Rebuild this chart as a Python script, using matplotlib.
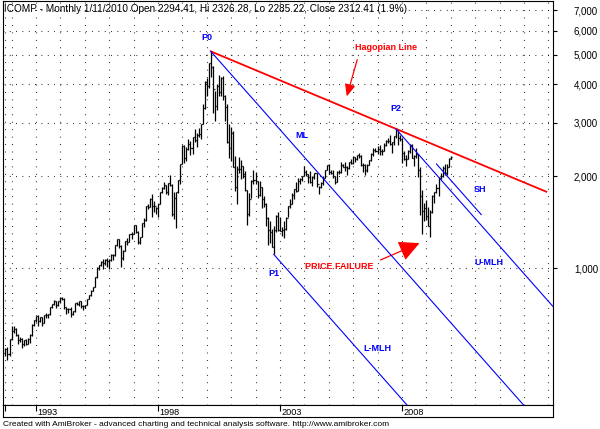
import numpy as np
import matplotlib.pyplot as plt
from matplotlib.collections import LineCollection
from matplotlib.ticker import NullLocator

plt.rcParams['font.family'] = ['Liberation Sans', 'DejaVu Sans']

# monthly bars of !COMP, Oct 1991 .. Jan 2010
# x position is the month number counted from Jan 1993
first_month = -15
first_open = 526.0
last_open = 2294.41

closes = [
    542.98, 523.90, 586.34,
    620.21, 633.47, 603.77, 578.68, 585.31, 563.60, 580.83, 563.12, 583.27, 605.17, 652.73, 676.95,
    696.34, 670.77, 690.13, 661.42, 700.53, 703.95, 704.70, 742.84, 762.78, 779.26, 754.39, 776.80,
    800.47, 792.50, 743.46, 733.84, 735.19, 705.96, 722.16, 765.62, 764.29, 777.49, 750.32, 751.96,
    755.20, 793.73, 817.21, 843.98, 864.58, 933.45, 1001.21, 1020.11, 1043.54, 1036.06, 1059.20, 1052.13,
    1059.79, 1100.05, 1101.40, 1190.52, 1243.43, 1185.02, 1080.59, 1141.50, 1226.92, 1221.51, 1292.61, 1291.03,
    1379.85, 1309.00, 1221.70, 1260.76, 1400.32, 1442.07, 1593.81, 1587.32, 1685.69, 1593.61, 1600.55, 1570.35,
    1619.36, 1770.51, 1835.68, 1868.41, 1778.87, 1894.74, 1872.39, 1499.25, 1693.84, 1771.39, 1949.54, 2192.69,
    2505.89, 2288.03, 2461.40, 2542.85, 2470.52, 2686.12, 2638.49, 2739.35, 2746.16, 2966.43, 3336.16, 4069.31,
    3940.35, 4696.69, 4572.83, 3860.66, 3400.91, 3966.11, 3766.99, 4206.35, 3672.82, 3369.63, 2597.93, 2470.52,
    2772.73, 2151.83, 1840.26, 2116.24, 2110.49, 2160.54, 2027.13, 1805.43, 1498.80, 1690.20, 1930.58, 1950.40,
    1934.03, 1731.49, 1845.35, 1688.23, 1615.73, 1463.21, 1328.26, 1314.85, 1172.06, 1329.75, 1478.78, 1335.51,
    1320.91, 1337.52, 1341.17, 1464.31, 1595.91, 1622.80, 1735.02, 1810.45, 1786.94, 1932.21, 1960.26, 2003.37,
    2066.15, 2029.82, 1994.22, 1920.15, 1986.74, 2047.79, 1887.36, 1838.10, 1896.84, 1974.99, 2096.81, 2175.44,
    2062.41, 2051.72, 1999.23, 1921.65, 2068.22, 2056.96, 2184.83, 2152.09, 2151.69, 2120.30, 2232.82, 2205.32,
    2305.82, 2281.39, 2339.79, 2322.57, 2178.88, 2172.09, 2091.47, 2183.75, 2258.43, 2366.71, 2431.77, 2415.29,
    2463.93, 2416.15, 2421.64, 2525.09, 2604.52, 2603.23, 2546.27, 2596.36, 2701.50, 2859.12, 2660.96, 2652.28,
    2389.86, 2271.48, 2279.10, 2412.80, 2522.66, 2292.98, 2325.55, 2367.52, 2091.88, 1720.95, 1535.57, 1577.03,
    1476.42, 1377.84, 1528.59, 1717.30, 1774.33, 1835.04, 1978.50, 2009.06, 2122.42, 2045.11, 2144.60, 2269.15,
    2312.41,
]
highs = [
    548, 550, 586,
    645, 644, 636, 606, 592, 590, 583, 584, 590, 606, 653, 677,
    697, 700, 693, 693, 701, 712, 707, 743, 763, 787, 779, 777,
    801, 803, 800, 745, 741, 746, 723, 766, 775, 781, 778, 755,
    756, 794, 818, 845, 866, 934, 1005, 1022, 1052, 1067, 1069, 1076,
    1067, 1114, 1110, 1191, 1249, 1245, 1186, 1142, 1227, 1252, 1293, 1316,
    1380, 1381, 1323, 1263, 1401, 1454, 1594, 1626, 1697, 1745, 1661, 1582,
    1621, 1771, 1841, 1910, 1868, 1895, 2014, 1882, 1771, 1775, 1950, 2200,
    2534, 2527, 2497, 2657, 2607, 2687, 2865, 2762, 2887, 2970, 3449, 4090,
    4193, 4697, 5132, 4584, 3816, 4012, 4299, 4234, 4260, 3684, 3459, 2971,
    2893, 2808, 2323, 2160, 2315, 2255, 2164, 2073, 1809, 1767, 1941, 2099,
    2059, 1932, 1929, 1844, 1726, 1639, 1468, 1426, 1347, 1372, 1495, 1521,
    1467, 1358, 1425, 1471, 1595, 1684, 1761, 1814, 1916, 1977, 1968, 2010,
    2153, 2091, 2033, 2079, 1999, 2050, 2052, 1857, 1914, 1997, 2103, 2178,
    2191, 2096, 2090, 2010, 2076, 2098, 2219, 2199, 2220, 2160, 2233, 2278,
    2333, 2317, 2345, 2375, 2345, 2205, 2185, 2189, 2264, 2376, 2469, 2470,
    2509, 2531, 2451, 2562, 2626, 2671, 2724, 2597, 2716, 2861, 2850, 2725,
    2661, 2419, 2340, 2431, 2551, 2550, 2342, 2473, 2368, 2141, 1799, 1636,
    1667, 1583, 1555, 1736, 1775, 1885, 1995, 2042, 2167, 2190, 2195, 2295,
    2326.28,
]
lows = [
    515, 500, 515,
    580, 612, 598, 565, 570, 547, 555, 560, 562, 569, 600, 647,
    667, 644, 665, 645, 659, 688, 687, 704, 740, 759, 741, 748,
    770, 785, 736, 705, 710, 693, 700, 720, 755, 750, 737, 729,
    740, 754, 793, 812, 838, 864, 930, 985, 1013, 990, 1020, 1010,
    990, 1057, 1065, 1097, 1184, 1164, 1010, 1062, 1137, 1193, 1218, 1241,
    1290, 1305, 1200, 1201, 1260, 1364, 1430, 1561, 1587, 1467, 1525, 1506,
    1465, 1620, 1756, 1819, 1750, 1742, 1854, 1483, 1452, 1357, 1762, 1890,
    2192, 2207, 2243, 2434, 2345, 2361, 2583, 2487, 2686, 2656, 2960, 3333,
    3671, 3897, 4214, 3227, 3042, 3293, 3661, 3662, 3567, 3027, 2571, 2288,
    2251, 2138, 1794, 1619, 2050, 1953, 1969, 1785, 1387, 1480, 1697, 1884,
    1886, 1696, 1727, 1573, 1589, 1375, 1192, 1206, 1172, 1108, 1316, 1318,
    1318, 1271, 1253, 1336, 1473, 1577, 1620, 1683, 1777, 1785, 1880, 1931,
    2001, 2000, 1897, 1901, 1862, 1958, 1850, 1750, 1834, 1873, 1975, 2095,
    2030, 2030, 1973, 1889, 1915, 2040, 2046, 2138, 2088, 2025, 2115, 2190,
    2189, 2224, 2260, 2295, 2155, 2065, 2012, 2064, 2172, 2241, 2331, 2400,
    2370, 2340, 2340, 2413, 2513, 2561, 2530, 2386, 2526, 2675, 2531, 2601,
    2202, 2252, 2155, 2280, 2392, 2287, 2167, 2287, 1984, 1493, 1295, 1428,
    1440, 1377, 1265, 1517, 1635, 1766, 1727, 1960, 1991, 2024, 2025, 2150,
    2285.22,
]

# pitchfork pivots (month, value)
p0 = (86, 5132.0)    # Mar 2000
p1 = (117, 1108.0)   # Oct 2002
p2 = (177, 2861.0)   # Oct 2007
hagopian_end = 251
fork_end = 256
sh_start = (197, 2193.0)
sh_end_month = 219

price_ticks = [1000, 2000, 3000, 4000, 5000, 6000, 7000]
price_labels = ["1,000", "2,000", "3,000", "4,000", "5,000", "6,000", "7,000"]
year_ticks = [0, 60, 120, 180]
year_labels = ["1993", "1998", "2003", "2008"]

title = ("!COMP - Monthly 1/11/2010 Open 2294.41, Hi 2326.28, Lo 2285.22, "
         "Close 2312.41 (1.9%)")
footer = ("Created with AmiBroker - advanced charting and technical analysis "
          "software. http://www.amibroker.com")

W, H = 600, 429
fig = plt.figure(figsize=(W / 100, H / 100), dpi=100)
ax = fig.add_axes([3 / W, 1 - 405 / H, 550 / W, 404 / H])
ax.set_yscale("log")
ax.set_xlim(-16.2, 254.3)
ax.set_ylim(355.6, 7507)
ax.set_xticks([])

# grid: dotted, AmiBroker style
months = np.arange(len(closes)) + first_month
jan_lines = [first_month] + list(range(-12, 255, 12))
ax.vlines(jan_lines, 355.6, 7507, colors="black", linewidth=0.8,
          linestyles=[(0, (0.7, 6.0))], zorder=1)
ax.hlines(price_ticks, -16.2, 254.3, colors="black", linewidth=0.8,
          linestyles=[(0, (0.7, 5.0))], zorder=1)

# OHLC bars
opens = [first_open] + closes[:-2] + [last_open]
segs = []
for m, o, hi, lo, c in zip(months, opens, highs, lows, closes):
    segs.append([(m, lo), (m, hi)])
    segs.append([(m - 0.5, o), (m, o)])
    segs.append([(m, c), (m + 0.5, c)])
ax.add_collection(LineCollection(segs, colors="black", linewidths=0.9, zorder=3))

# Hagopian line P0 -> P2 extended
k_red = (np.log10(p2[1]) - np.log10(p0[1])) / (p2[0] - p0[0])
xr = np.array([p0[0], hagopian_end])
ax.plot(xr, p0[1] * 10 ** (k_red * (xr - p0[0])), color="#ff0000", lw=1.3, zorder=4)

# Andrews pitchfork: median line from P0 through midpoint of P1-P2
mid_m = (p1[0] + p2[0]) / 2
mid_v = np.sqrt(p1[1] * p2[1])
k = (np.log10(mid_v) - np.log10(p0[1])) / (mid_m - p0[0])
for pm, pv in (p0, p1, p2):
    xs = np.array([pm, fork_end])
    ax.plot(xs, pv * 10 ** (k * (xs - pm)), color="#0000ff", lw=0.8, zorder=4)
xs = np.array([sh_start[0], sh_end_month])
ax.plot(xs, sh_start[1] * 10 ** (k * (xs - sh_start[0])), color="#0000ff", lw=0.8, zorder=4)

lab = dict(fontsize=6.5, fontweight="bold", ha="center", va="center", zorder=5)
ax.text(84.1, 5715, "P0", color="#0000ff", **lab)
ax.text(177.1, 3346, "P2", color="#0000ff", **lab)
ax.text(117.1, 963, "P1", color="#0000ff", **lab)
ax.text(130.8, 2729, "ML", color="#0000ff", **lab)
ax.text(218.4, 1815, "SH", color="#0000ff", **lab)
ax.text(222.8, 1046, "U-MLH", color="#0000ff", **lab)
ax.text(167.7, 543, "L-MLH", color="#0000ff", **lab)
ax.text(172.2, 5304, "Hagopian Line", color="#ff0000", **lab)
ax.text(149.0, 1015, "PRICE FAILURE", color="#ff0000", **lab)

ax.annotate("", xy=(152.5, 3581), xytext=(158.4, 4918),
            arrowprops=dict(arrowstyle="-|>,head_length=0.8,head_width=0.35",
                            color="#ff0000", lw=0.9, mutation_scale=9))
ax.annotate("", xy=(189.9, 1217), xytext=(168.2, 1054),
            arrowprops=dict(arrowstyle="-|>,head_length=0.9,head_width=0.45",
                            color="#ff0000", lw=0.9, mutation_scale=14))

# price axis on the right
ax.yaxis.tick_right()
ax.set_yticks(price_ticks)
ax.set_yticklabels(price_labels)
ax.yaxis.set_minor_locator(NullLocator())
ax.tick_params(axis="y", length=3, width=0.8, pad=12, labelsize=7, colors="black")
for s in ax.spines.values():
    s.set_linewidth(0.8)

ax.text(0.002, 0.993, title, transform=ax.transAxes, fontsize=7.2, va="top", ha="left")

# date strip below the chart
ax2 = fig.add_axes([3 / W, 1 - 417 / H, 550 / W, 12 / H])
ax2.set_xlim(-16.2, 254.3)
ax2.set_ylim(0, 1)
ax2.set_yticks([])
ax2.set_xticks([first_month] + year_ticks)
ax2.set_xticklabels([])
ax2.tick_params(axis="x", direction="in", top=True, bottom=False, length=4, width=0.8)
for s in ax2.spines.values():
    s.set_linewidth(0.8)
for m, t in zip(year_ticks, year_labels):
    ax2.text(m + 0.8, 0.4, t, fontsize=6.6, ha="left", va="center")

fig.text(3 / W, 1 - 424 / H, footer, fontsize=6.0, ha="left", va="center")

fig.savefig("out.png", dpi=100)
